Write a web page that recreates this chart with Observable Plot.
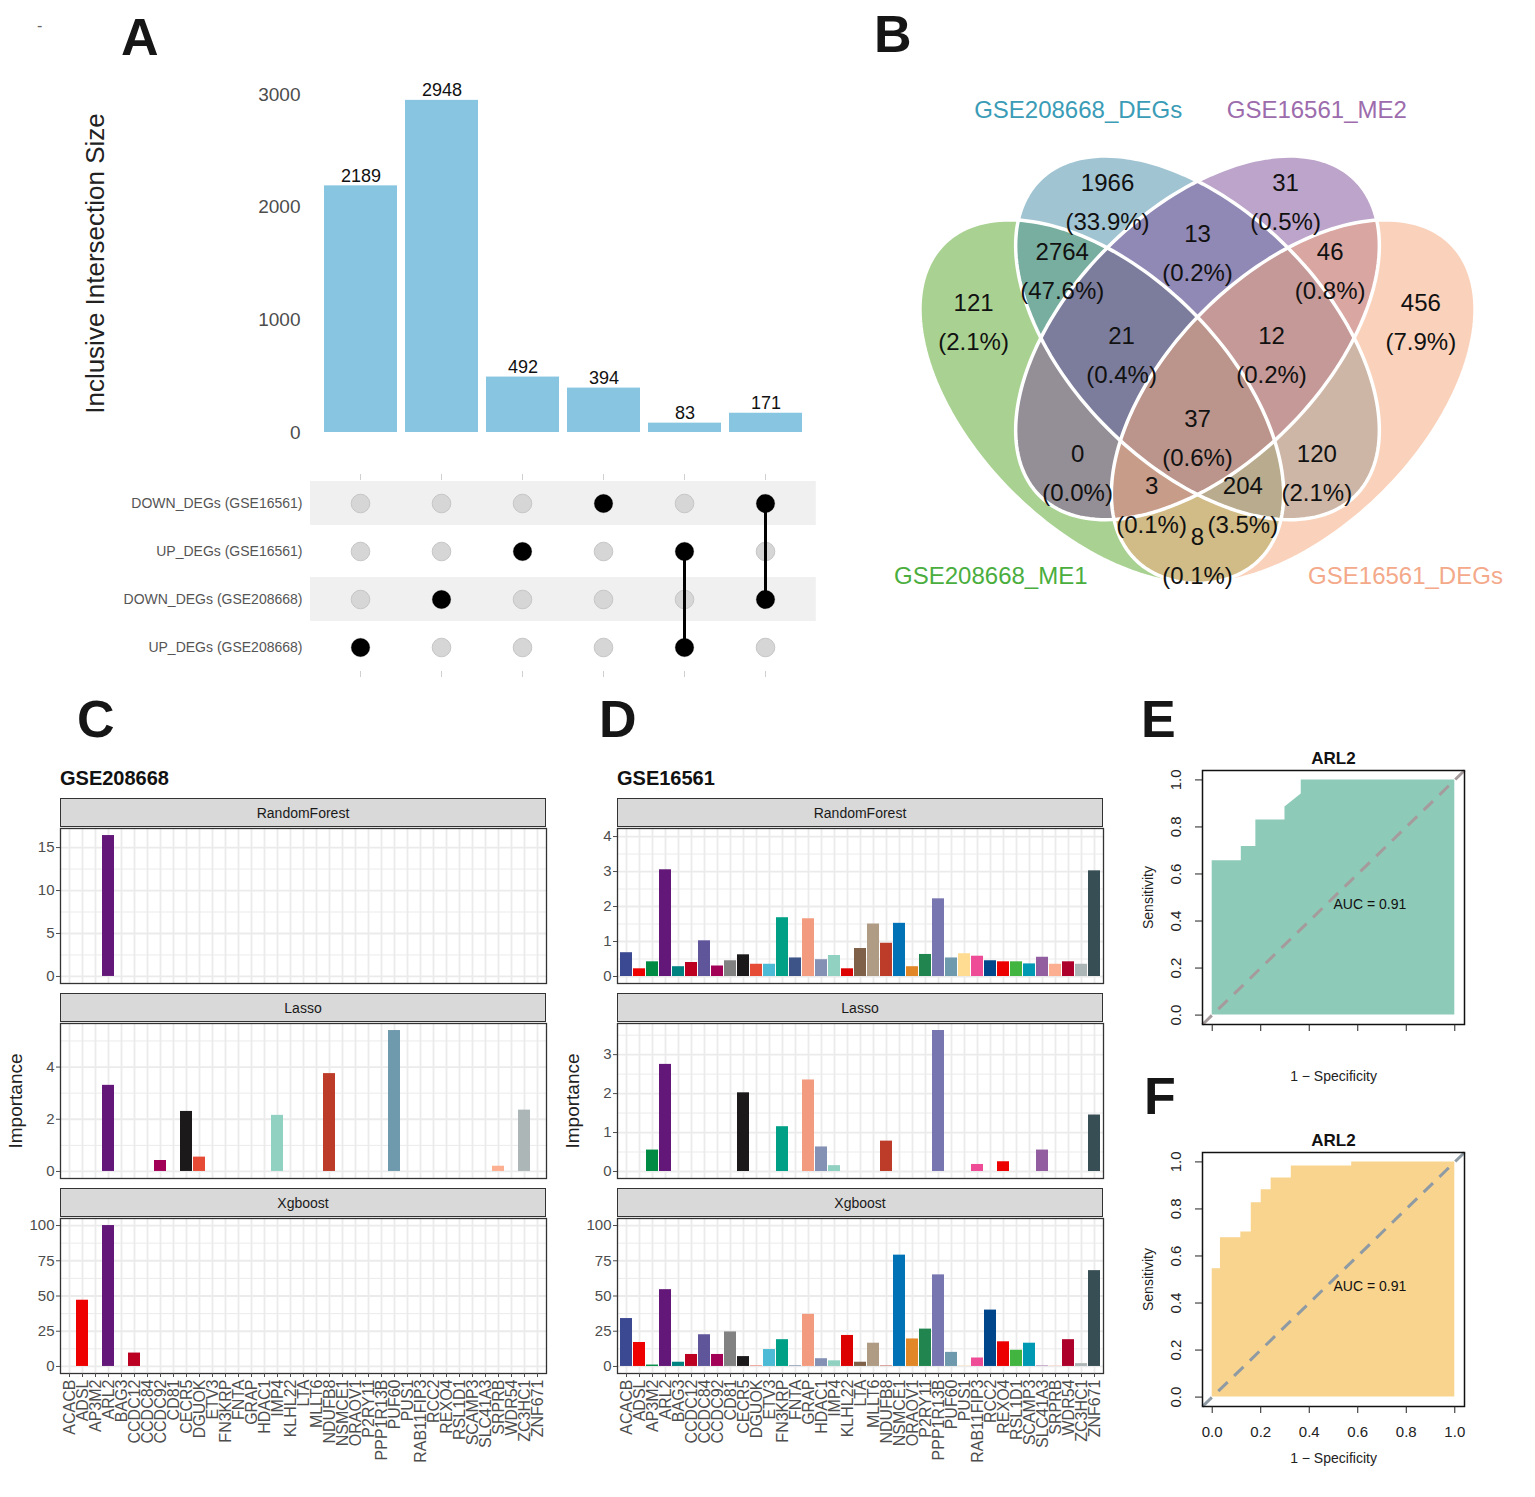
<!DOCTYPE html>
<html><head><meta charset="utf-8">
<script src="https://cdn.jsdelivr.net/npm/d3@7"></script>
<script src="https://cdn.jsdelivr.net/npm/@observablehq/plot@0.6"></script>
<style>
body{margin:0;background:#fff;font-family:"Liberation Sans",Arial,sans-serif;}
#fig{position:relative;width:1535px;height:1497px;background:#fff;overflow:hidden}
.letter{position:absolute;font-weight:bold;font-size:52px;line-height:1;color:#161616}
.title{position:absolute;font-weight:bold;font-size:20px;line-height:1;color:#111}
.strip{position:absolute;box-sizing:border-box;background:#d9d9d9;border:1.3px solid #333;font-size:14px;color:#1a1a1a;display:flex;align-items:center;justify-content:center}
</style></head><body><div id="fig"></div>
<script>
// ---------------- DATA ----------------
// Panel A (UpSet)
const upsetIds = ["I1","I2","I3","I4","I5","I6"];
const upsetSizes = [2189, 2948, 492, 394, 83, 171];
const upsetTicks = [0, 1000, 2000, 3000];
const setNames = ["DOWN_DEGs (GSE16561)", "UP_DEGs (GSE16561)", "DOWN_DEGs (GSE208668)", "UP_DEGs (GSE208668)"];
const upsetMembers = [
  ["UP_DEGs (GSE208668)"],
  ["DOWN_DEGs (GSE208668)"],
  ["UP_DEGs (GSE16561)"],
  ["DOWN_DEGs (GSE16561)"],
  ["UP_DEGs (GSE16561)", "UP_DEGs (GSE208668)"],
  ["DOWN_DEGs (GSE16561)", "DOWN_DEGs (GSE208668)"]
];
// Panel B (Venn)
const vennSets = ["GSE208668_ME1", "GSE208668_DEGs", "GSE16561_ME2", "GSE16561_DEGs"];
const vennFill = ["#5aa82e", "#4a8eab", "#80509a", "#f5a87c"];
const vennLabelColor = ["#4aae3e", "#3a9cb6", "#9c6cad", "#f4a98a"];
const vennCounts = [121, 1966, 2764, 13, 31, 46, 456, 21, 12, 37, 0, 120, 3, 204, 8];
const vennPercents = ["(2.1%)","(33.9%)","(47.6%)","(0.2%)","(0.5%)","(0.8%)","(7.9%)","(0.4%)","(0.2%)","(0.6%)","(0.0%)","(2.1%)","(0.1%)","(3.5%)","(0.1%)"];
// Panels C, D
const genes = ["ACACB","ADSL","AP3M2","ARL2","BAG3","CCDC12","CCDC84","CCDC92","CD81","CECR5","DGUOK","ETV3","FN3KRP","FNTA","GRAP","HDAC1","IMP4","KLHL22","LTA","MLLT6","NDUFB8","NSMCE1","ORAOV1","P2RY11","PPP1R13B","PUF60","PUS1","RAB11FIP3","RCC2","REXO4","RSL1D1","SCAMP3","SLC41A3","SRPRB","WDR54","ZC3HC1","ZNF671"];
const geneColors = ["#3B4992","#EE0000","#008B45","#631879","#008280","#BB0021","#5F559B","#A20056","#808180","#1B1919","#E64B35","#4DBBD5","#00A087","#3C5488","#F39B7F","#8491B4","#91D1C2","#DC0000","#7E6148","#B09C85","#BC3C29","#0072B5","#E18727","#20854E","#7876B1","#6F99AD","#FFDC91","#EE4C97","#00468B","#ED0000","#42B540","#0099B4","#925E9F","#FDAF91","#AD002A","#ADB6B6","#374E55"];
const rfC    = [0,0,0,16.4,0,0,0,0,0,0,0,0,0,0,0,0,0,0,0,0,0,0,0,0,0,0,0,0,0,0,0,0,0,0,0,0,0];
const lassoC = [0,0,0,3.3,0,0,0,0.42,0,2.3,0.55,0,0,0,0,0,2.15,0,0,0,3.75,0,0,0,0,5.4,0,0,0,0,0,0,0,0.2,0,2.35,0];
const xgbC   = [0,47,0,100,0,9.5,0,0,0,0,0,0,0,0,0,0,0,0,0,0,0,0,0,0,0,0,0,0,0,0,0,0,0,0,0,0,0];
const rfD    = [0.68,0.22,0.42,3.05,0.28,0.40,1.02,0.30,0.45,0.62,0.35,0.35,1.68,0.53,1.65,0.48,0.60,0.22,0.80,1.50,0.95,1.52,0.28,0.63,2.22,0.53,0.65,0.58,0.45,0.42,0.42,0.36,0.55,0.35,0.42,0.35,3.02];
const lassoD = [0,0,0.55,2.75,0,0,0,0,0,2.02,0,0,1.15,0,2.35,0.63,0.15,0,0,0,0.78,0,0,0,3.62,0,0,0.18,0,0.25,0,0,0.55,0,0,0,1.45];
const xgbD   = [34,17,1,54.5,3,8.5,22.5,8.5,24.5,7,0.3,12,19,0.3,37,5.5,4,22,3,16.5,0.3,79,19.5,26.5,65,10,0.2,6,40,17.5,11.5,16.5,0.3,0.2,19,2,68];
const ticksRF_C = [0,5,10,15], minorRF_C = [2.5,7.5,12.5];
const ticksLasso_C = [0,2,4], minorLasso_C = [1,3,5];
const ticksXgb = [0,25,50,75,100], minorXgb = [12.5,37.5,62.5,87.5];
const ticksRF_D = [0,1,2,3,4], minorRF_D = [0.5,1.5,2.5,3.5];
const ticksLasso_D = [0,1,2,3], minorLasso_D = [0.5,1.5,2.5,3.5];
// Panels E, F (ROC)
const rocE_fpr = [0,0,0.12,0.12,0.18,0.18,0.30,0.30,0.367,0.367,1];
const rocE_tpr = [0,0.656,0.656,0.717,0.717,0.83,0.83,0.885,0.94,1,1];
const rocF_fpr = [0,0,0.034,0.034,0.118,0.118,0.161,0.161,0.202,0.202,0.243,0.243,0.326,0.326,0.575,0.575,1];
const rocF_tpr = [0,0.546,0.546,0.677,0.677,0.702,0.702,0.826,0.826,0.882,0.882,0.932,0.932,0.983,0.983,1,1];
const rocTicks = [0,0.2,0.4,0.6,0.8,1.0];
const aucE = 0.91, aucF = 0.91;
const rocGene = "ARL2";

// ---------------- LAYOUT ----------------
const fig = document.getElementById("fig");
const FONT = '"Liberation Sans", Arial, sans-serif';
function place(el, left, top) {
  el.style.position = "absolute"; el.style.left = left + "px"; el.style.top = top + "px";
  fig.appendChild(el); return el;
}
function div(cls, text, left, top, extra) {
  const d = document.createElement("div"); d.className = cls; d.textContent = text;
  if (extra) Object.assign(d.style, extra);
  return place(d, left, top);
}
const baseStyle = {fontFamily: FONT, background: "transparent", overflow: "visible"};
const plain = d => String(d);

// Panel letters
div("letter", "A", 121, 11);
div("letter", "B", 874, 8);
div("letter", "C", 77, 693);
div("letter", "D", 599, 693);
div("letter", "E", 1141, 693);
div("letter", "F", 1144, 1070);
div("letter", "-", 37, 18, {fontSize: "16px", fontWeight: "normal", color: "#666"});

// ---- Panel A bars ----
const barData = upsetIds.map((id, i) => ({id, size: upsetSizes[i]}));
place(Plot.plot({
  width: 780, height: 380, marginLeft: 259, marginRight: 33.2, marginTop: 24, marginBottom: 18,
  style: baseStyle,
  x: {domain: upsetIds, paddingInner: 0.1, paddingOuter: 0.05, axis: null},
  y: {domain: [0, 3000], axis: null},
  marks: [
    Plot.barY(barData, {x: "id", y: "size", fill: "#87c5e0"}),
    Plot.text(barData, {x: "id", y: "size", text: d => String(d.size), dy: -10, fontSize: 18, fill: "#111"}),
    Plot.axisY({ticks: upsetTicks, tickSize: 0, tickPadding: 19, fontSize: 19, color: "#4d4d4d", label: null, tickFormat: plain}),
    Plot.text(["Inclusive Intersection Size"], {frameAnchor: "left", textAnchor: "middle", dx: -224, rotate: -90, fontSize: 26, fill: "#222"})
  ]
}), 60, 70);

// ---- Panel A matrix ----
const cells = upsetIds.flatMap(id => setNames.map(s => ({id, set: s})));
const members = upsetIds.flatMap((id, i) => upsetMembers[i].map(s => ({id, set: s})));
place(Plot.plot({
  width: 780, height: 230, marginLeft: 259, marginRight: 33.2, marginTop: 19, marginBottom: 19,
  style: baseStyle,
  x: {domain: upsetIds, paddingInner: 0.1, paddingOuter: 0.05, axis: null},
  y: {domain: setNames, padding: 0, axis: null},
  marks: [
    Plot.cell(setNames.filter((s, i) => i % 2 === 0), {y: d => d, fill: "#f0f0f0", insetLeft: -9, insetRight: -9, insetTop: 2, insetBottom: 2}),
    Plot.axisX({anchor: "top", tickSize: 6, tickFormat: () => "", color: "#d0d0d0", label: null}),
    Plot.axisX({anchor: "bottom", tickSize: 6, tickFormat: () => "", color: "#d0d0d0", label: null}),
    Plot.dot(cells, {x: "id", y: "set", r: 9.3, fill: "#d6d6d6", stroke: "#c6c6c6", strokeWidth: 1}),
    Plot.line(members, {x: "id", y: "set", z: "id", stroke: "#000", strokeWidth: 3}),
    Plot.dot(members, {x: "id", y: "set", r: 9.3, fill: "#000"}),
    Plot.axisY({tickSize: 0, tickPadding: 17, fontSize: 14, color: "#555", label: null})
  ]
}), 60, 460);

// ---- Panel B Venn ----
const ellipseLayout = [
  {cx: 0.35, cy: 0.47, a: 0.35, b: 0.2, rot: -Math.PI / 4},
  {cx: 0.50, cy: 0.57, a: 0.35, b: 0.2, rot: -Math.PI / 4},
  {cx: 0.50, cy: 0.57, a: 0.35, b: 0.2, rot: Math.PI / 4},
  {cx: 0.65, cy: 0.47, a: 0.35, b: 0.2, rot: Math.PI / 4}
];
const ellipsePts = ellipseLayout.map((e, k) => d3.range(180).map(j => {
  const t = j / 180 * 2 * Math.PI;
  return {set: vennSets[k],
    x: e.cx + e.a * Math.cos(t) * Math.cos(e.rot) - e.b * Math.sin(t) * Math.sin(e.rot),
    y: e.cy + e.a * Math.cos(t) * Math.sin(e.rot) + e.b * Math.sin(t) * Math.cos(e.rot)};
}));
const regionPos = [[0.149,0.594],[0.359,0.781],[0.288,0.674],[0.5,0.701],[0.638,0.781],[0.708,0.674],[0.850,0.594],[0.381,0.542],[0.616,0.542],[0.5,0.411],[0.312,0.357],[0.687,0.357],[0.428,0.306],[0.571,0.306],[0.5,0.227]];
const regions = vennCounts.map((c, i) => ({x: regionPos[i][0], y: regionPos[i][1], n: String(c), p: vennPercents[i]}));
const setLabelPos = [[0.176,0.197],[0.313,0.926],[0.687,0.926],[0.826,0.197]];
const setLabels = vennSets.map((s, i) => ({x: setLabelPos[i][0], y: setLabelPos[i][1], s, c: vennLabelColor[i]}));
place(Plot.plot({
  width: 640, height: 540, marginLeft: 0, marginRight: 0, marginTop: 0, marginBottom: 0,
  style: baseStyle,
  x: {domain: [0.00313, 1.00627], axis: null},
  y: {domain: [0.127, 0.9734], axis: null},
  color: {type: "identity"},
  marks: [
    ...ellipsePts.map((pts, k) => Plot.line(pts, {x: "x", y: "y", fill: vennFill[k], fillOpacity: 0.52, stroke: "none", curve: "linear-closed"})),
    Plot.line(ellipsePts.flat(), {x: "x", y: "y", z: "set", stroke: "white", strokeWidth: 3.5, curve: "linear-closed"}),
    Plot.text(regions, {x: "x", y: "y", text: "n", fontSize: 24, fill: "#111", dy: -19.5}),
    Plot.text(regions, {x: "x", y: "y", text: "p", fontSize: 24, fill: "#111", dy: 19.5}),
    Plot.text(setLabels, {x: "x", y: "y", text: "s", fill: "c", fontSize: 24})
  ]
}), 880, 80);

// ---- Panels C, D ----
function facet(vals, o) {
  const data = genes.map((g, i) => ({gene: g, v: vals[i]}));
  const h = o.bottom ? 267 : 159;
  return Plot.plot({
    width: 560, height: h, marginLeft: o.ml, marginRight: 560 - o.ml - 486, marginTop: 2, marginBottom: o.bottom ? 110 : 2,
    style: baseStyle,
    x: {domain: genes, paddingInner: 0.1, paddingOuter: 0.15, axis: null},
    y: {domain: o.domain, axis: null},
    color: {domain: genes, range: geneColors},
    marks: [
      Plot.ruleY(o.minor, {stroke: "#ebebeb", strokeWidth: 1}),
      Plot.ruleY(o.ticks, {stroke: "#ebebeb", strokeWidth: 1.8}),
      Plot.gridX({stroke: "#ebebeb", strokeOpacity: 1, strokeWidth: 1.8}),
      Plot.barY(data, {x: "gene", y: "v", fill: "gene"}),
      Plot.frame({stroke: "#333", strokeWidth: 1.3}),
      Plot.axisY({ticks: o.ticks, tickSize: 4, tickPadding: 2, fontSize: 15, color: "#4d4d4d", label: null, tickFormat: plain}),
      o.bottom ? Plot.axisX({tickRotate: -90, tickSize: 4, tickPadding: 2, fontSize: 16, color: "#4d4d4d", label: null}) : null,
      o.ylabel ? Plot.text(["Importance"], {frameAnchor: "left", textAnchor: "middle", dx: -45, rotate: -90, fontSize: 19, fill: "#222"}) : null
    ]
  });
}
const methods = ["RandomForest", "Lasso", "Xgboost"];
const stripTops = [798, 993, 1188];
const facetTops = [826, 1021, 1216];
// C
div("title", "GSE208668", 60, 768);
methods.forEach((m, i) => div("strip", m, 60, stripTops[i], {width: "486px", height: "29px"}));
place(facet(rfC, {ml: 60, domain: [-0.82, 17.22], ticks: ticksRF_C, minor: minorRF_C}), 0, facetTops[0]);
place(facet(lassoC, {ml: 60, domain: [-0.27, 5.67], ticks: ticksLasso_C, minor: minorLasso_C, ylabel: true}), 0, facetTops[1]);
place(facet(xgbC, {ml: 60, domain: [-5, 105], ticks: ticksXgb, minor: minorXgb, bottom: true}), 0, facetTops[2]);
// D
div("title", "GSE16561", 617, 768);
methods.forEach((m, i) => div("strip", m, 617, stripTops[i], {width: "486px", height: "29px"}));
place(facet(rfD, {ml: 57, domain: [-0.2, 4.23], ticks: ticksRF_D, minor: minorRF_D}), 560, facetTops[0]);
place(facet(lassoD, {ml: 57, domain: [-0.18, 3.8], ticks: ticksLasso_D, minor: minorLasso_D, ylabel: true}), 560, facetTops[1]);
place(facet(xgbD, {ml: 57, domain: [-5, 105], ticks: ticksXgb, minor: minorXgb, bottom: true}), 560, facetTops[2]);

// ---- Panels E, F ----
function roc(fpr, tpr, auc, fill, dash, showX) {
  const data = fpr.map((f, i) => ({fpr: f, tpr: tpr[i]}));
  const diag = [{v: -0.04}, {v: 1.04}];
  return Plot.plot({
    width: 360, height: 370, marginLeft: 82, marginRight: 16, marginTop: 40, marginBottom: 76,
    style: baseStyle,
    x: {domain: [-0.04, 1.04], axis: null},
    y: {domain: [-0.04, 1.04], axis: null},
    marks: [
      Plot.areaY(data, {x: "fpr", y1: 0, y2: "tpr", fill}),
      Plot.line(diag, {x: "v", y: "v", stroke: dash, strokeWidth: 3, strokeDasharray: "13,9", strokeLinecap: "butt"}),
      Plot.frame({stroke: "#111", strokeWidth: 1.5}),
      Plot.axisX({ticks: rocTicks, tickSize: 7, tickPadding: 13, tickFormat: showX ? (d => d.toFixed(1)) : (() => ""), fontSize: 15, color: "#222", label: null}),
      Plot.axisY({ticks: rocTicks, tickSize: 7, tickFormat: () => "", color: "#222", label: null}),
      Plot.text(rocTicks, {y: d => d, text: d => d.toFixed(1), frameAnchor: "left", textAnchor: "middle", dx: -26, rotate: -90, fontSize: 15, fill: "#222"}),
      Plot.text(["Sensitivity"], {frameAnchor: "left", textAnchor: "middle", dx: -54, rotate: -90, fontSize: 14, fill: "#222"}),
      Plot.text(["1 \u2212 Specificity"], {frameAnchor: "bottom", dy: 56, fontSize: 14, fill: "#222"}),
      Plot.text([rocGene], {frameAnchor: "top", dy: -19, fontSize: 17, fontWeight: "bold", fill: "#111"}),
      Plot.text([{x: 0.5, y: 0.47, t: "AUC = " + auc.toFixed(2)}], {x: "x", y: "y", text: "t", textAnchor: "start", fontSize: 14, fill: "#111"})
    ]
  });
}
place(roc(rocE_fpr, rocE_tpr, aucE, "#8dcab8", "#a69b9c", false), 1120, 730);
place(roc(rocF_fpr, rocF_tpr, aucF, "#f9d48e", "#8e9aa4", true), 1120, 1112);
</script></body></html>
